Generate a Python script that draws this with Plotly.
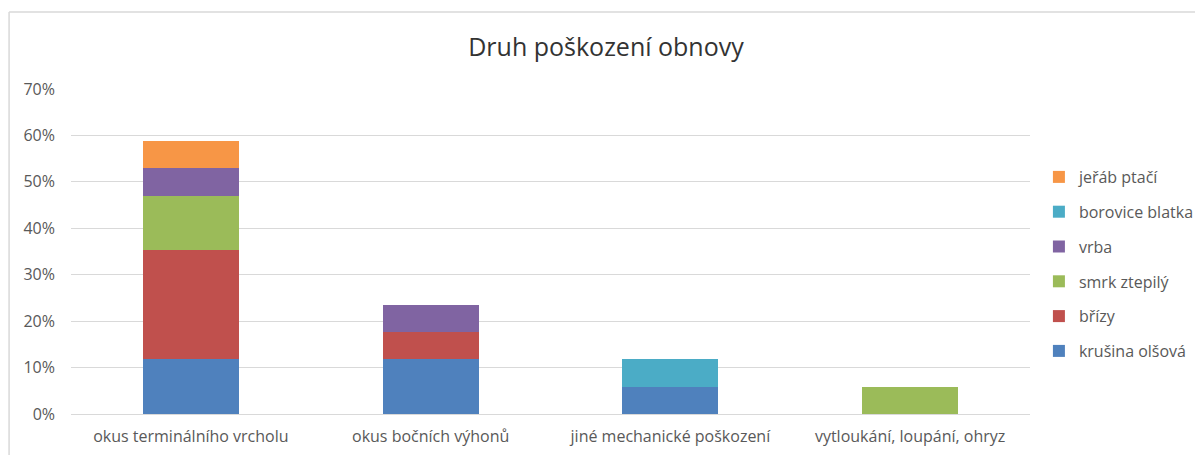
import plotly.graph_objects as go

categories = ["okus terminálního vrcholu", "okus bočních výhonů",
              "jiné mechanické poškození", "vytloukání, loupání, ohryz"]

series_names = ["krušina olšová", "břízy", "smrk ztepilý", "vrba", "borovice blatka", "jeřáb ptačí"]
krusina = [0.1176, 0.1176, 0.0588, 0.0]
brizy = [0.2353, 0.0588, 0.0, 0.0]
smrk = [0.1176, 0.0, 0.0, 0.0588]
vrba = [0.0588, 0.0588, 0.0, 0.0]
borovice = [0.0, 0.0, 0.0588, 0.0]
jerab = [0.0588, 0.0, 0.0, 0.0]
series_values = [krusina, brizy, smrk, vrba, borovice, jerab]
colors = ["#4F81BD", "#C0504D", "#9BBB59", "#8064A2", "#4BACC6", "#F79646"]

y_ticks = [0, 0.1, 0.2, 0.3, 0.4, 0.5, 0.6, 0.7]
y_tick_labels = ["0%", "10%", "20%", "30%", "40%", "50%", "60%", "70%"]

FONT = "Open Sans"

fig = go.Figure()
n = len(series_names)
for i, (name, vals, col) in enumerate(zip(series_names, series_values, colors)):
    fig.add_trace(go.Bar(
        x=categories, y=vals, name=name, marker=dict(color=col, line=dict(width=0)),
        legendgroup=f"g{i}", legendrank=n - i, hoverinfo="name+y",
    ))

W, H = 1203, 455
L, R, T, B = 63, 172, 81, 49
PW, PH = W - L - R, H - T - B

def px_x(fx):
    return (fx - L) / PW

def px_y(fy):
    return 1 - (fy - T) / PH

fig.update_layout(
    width=W, height=H,
    barmode="stack", bargap=0.6,
    margin=dict(l=L, r=R, t=T, b=B),
    paper_bgcolor="white", plot_bgcolor="white",
    font=dict(family=FONT, color="#595959", size=16),
    title=dict(text="Druh poškození obnovy", x=px_x(603), xref="paper", xanchor="center",
               y=1 - 39 / H, yref="container", yanchor="middle",
               font=dict(family=FONT, size=25, color="#333333")),
    xaxis=dict(showgrid=False, showline=False, zeroline=False, ticks="",
               tickfont=dict(size=16, color="#595959"), ticklabelstandoff=11),
    yaxis=dict(range=[0, 0.7], tickvals=y_ticks, ticktext=y_tick_labels,
               showgrid=True, gridcolor="#D9D9D9", gridwidth=1,
               zeroline=True, zerolinecolor="#D9D9D9", zerolinewidth=1,
               showline=False, ticks="", ticklabelstandoff=15,
               tickfont=dict(size=16, color="#595959")),
    legend=dict(x=px_x(1040), xanchor="left",
                y=px_y(152), yanchor="top",
                traceorder="grouped", tracegroupgap=11,
                font=dict(size=16, color="#595959"),
                itemwidth=30, bgcolor="rgba(0,0,0,0)"),
    showlegend=True,
)

# outer chart border (left and top edges)
fig.add_shape(type="line", xref="paper", yref="paper",
              x0=px_x(0.5), x1=px_x(0.5), y0=px_y(H + 10), y1=px_y(4),
              line=dict(color="#D9D9D9", width=1.5), layer="below")
fig.add_shape(type="line", xref="paper", yref="paper",
              x0=px_x(0.5), x1=px_x(W), y0=px_y(4), y1=px_y(4),
              line=dict(color="#D9D9D9", width=1.5), layer="below")

fig.write_html("out.html")
